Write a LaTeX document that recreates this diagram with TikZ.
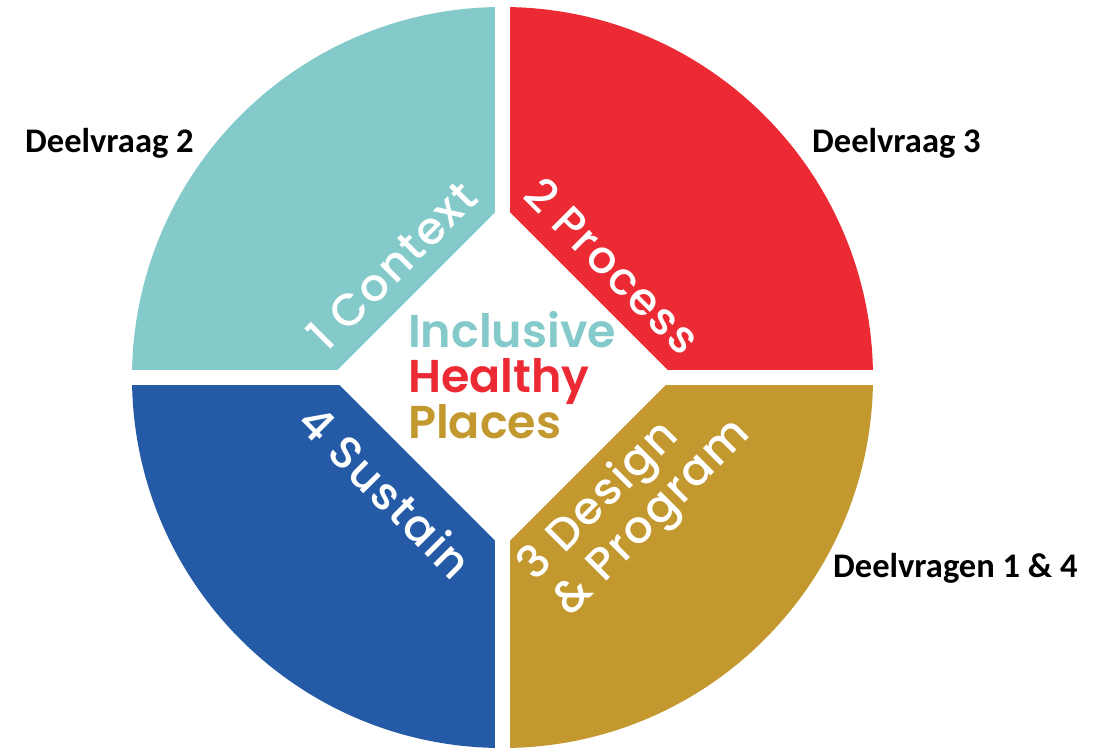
\documentclass[tikz,border=0pt]{standalone}
\usepackage{fontspec}
\setmainfont{Poppins}
\newfontfamily\labfont{Poppins Medium}[LetterSpace=4]
\newfontfamily\midfont{Poppins SemiBold}
\newfontfamily\qfont{Carlito}[BoldFont={Carlito Bold}]
\definecolor{cteal}{HTML}{85CACB}
\definecolor{cred}{HTML}{EC2A34}
\definecolor{cgold}{HTML}{C3982E}
\definecolor{cblue}{HTML}{255BA6}
\tikzset{
  seglabel/.style={text=white, inner sep=0pt, font={\labfont\fontsize{45}{49}\selectfont}},
  question/.style={text=black, inner sep=0pt, anchor=base west, font={\qfont\bfseries\fontsize{34.5}{36}\selectfont}},
  midline/.style={inner sep=0pt, anchor=base west, font={\midfont\fontsize{46}{46}\selectfont}}
}
\begin{document}
\begin{tikzpicture}[x=1pt,y=-1pt]
\useasboundingbox (0,0) rectangle (1104,752);
\fill[white] (0,0) rectangle (1104,752);
\coordinate (c) at (502.5,377.5);
\begin{scope}
  \clip (c) circle (370.5);
  \fill[cteal] (100,0) rectangle (c);
  \fill[cred] (900,0) rectangle (c);
  \fill[cblue] (100,752) rectangle (c);
  \fill[cgold] (900,752) rectangle (c);
\end{scope}
% white centre diamond and gaps
\fill[white] (502.5,205) -- (674,376.5) -- (502.5,548) -- (331,376.5) -- cycle;
\fill[white] (495,0) rectangle (510,752);
\fill[white] (100,370) rectangle (900,385);
% segment labels
\node[seglabel, rotate=45] (ctx) at (392,266) {1 Context};
\node[seglabel, rotate=-45] (prc) at (613,266) {2 Process};
\node[seglabel, rotate=-45] (sus) at (386,491) {4 Sustain};
\node[seglabel, rotate=45, anchor=west, align=left] (dsg) at (545,592) {3 Design\\\& Program};
% centre title
\node[midline, text=cteal] (inc) at (408,347) {Inclusive};
\node[midline, text=cred] (hea) at (408,392) {Healthy};
\node[midline, text=cgold] (pla) at (408,438) {Places};
% questions
\node[question] (q2) at (25,152) {Deelvraag 2};
\node[question] (q3) at (812,153) {Deelvraag 3};
\node[question] (q14) at (833,577) {Deelvragen 1 \& 4};
\end{tikzpicture}
\end{document}
